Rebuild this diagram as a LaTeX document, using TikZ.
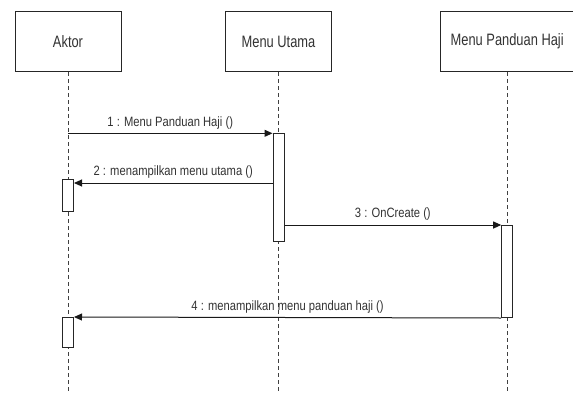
\documentclass[tikz,border=0pt]{standalone}
\usepackage{fontspec}
\setmainfont{Liberation Sans}
\usetikzlibrary{arrows.meta}
\newcommand{\nar}[1]{\scalebox{0.78}[1]{#1}}
\newcommand{\narl}[1]{\scalebox{0.83}[1]{#1}}
\begin{document}
\begin{tikzpicture}[x=1pt,y=1pt,
  titlebox/.style={draw=black!85,line width=1pt,fill=white,minimum width=106pt,minimum height=60pt,inner sep=0pt,text=black!80,font=\fontsize{16.5}{18}\selectfont},
  actbox/.style={draw=black!85,line width=1pt,fill=white,minimum width=11pt,inner sep=0pt,anchor=north},
  life/.style={draw=black!75,line width=0.9pt,dash pattern=on 4pt off 3pt},
  msg/.style={draw=black!90,line width=1pt,-{Triangle[length=8pt,width=7pt]}},
  lbl/.style={anchor=south,inner sep=0pt,text=black!80,font=\fontsize{13.5}{15}\selectfont}]
\useasboundingbox (0,0) rectangle (573,-394);
\fill[white] (0,0) rectangle (573,-394);
% lifeline heads
\node[titlebox] (aktor) at (68,-41.6) {\nar{Aktor}};
\node[titlebox] (mu) at (278.5,-41.6) {\nar{Menu Utama}};
\node[titlebox,minimum width=132.5pt] (mph) at (507.2,-41.6) {\nar{Menu Panduan Haji}};
\coordinate (aktorend) at (68,-394);
\coordinate (muend) at (278.5,-394);
\coordinate (mphend) at (507.2,-394);
\draw[life] (aktor.south) -- (aktorend);
\draw[life] (mu.south) -- (muend);
\draw[life] (mph.south) -- (mphend);
% activations
\node[actbox,minimum height=107.7pt] (mu1) at (278.5,-133.3) {};
\node[actbox,minimum height=31.5pt] (a1) at (68,-179) {};
\node[actbox,minimum height=92pt] (mph1) at (507.2,-225) {};
\node[actbox,minimum height=30pt] (a2) at (68,-317) {};
% messages
\coordinate (m2) at (0,-183);
\draw[msg] (mu1.north west -| aktor.south) -- node[lbl,above=4pt]{\narl{1 : Menu Panduan Haji ()}} (mu1.north west);
\draw[msg] (mu1.west |- m2) -- node[lbl,above=4pt]{\narl{2 : menampilkan menu utama ()}} (a1.east |- m2);
\draw[msg] (mu1.east |- mph1.north west) -- node[lbl,above=4pt]{\narl{3 : OnCreate ()}} (mph1.north west);
\draw[msg] (mph1.south west) -- node[lbl,above=4pt]{\narl{4 : menampilkan menu panduan haji ()}} (a2.north east);
\end{tikzpicture}
\end{document}
